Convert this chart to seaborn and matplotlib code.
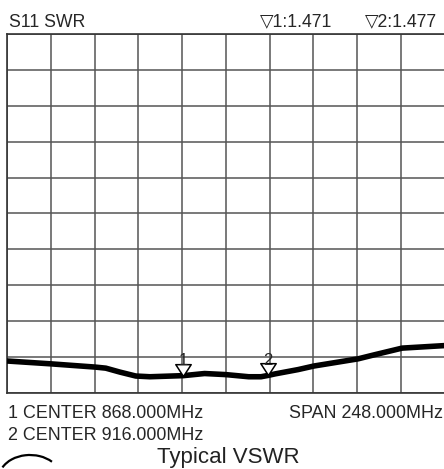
import numpy as np
import matplotlib
matplotlib.use("Agg")
import matplotlib.pyplot as plt
import seaborn as sns
import pandas as pd
from matplotlib.path import Path
from matplotlib.patches import Arc

# Trace (MHz, SWR)
freq = [768, 793, 818, 824, 832, 841, 849, 868, 880, 892, 905, 912, 916,
        920, 933, 942, 967, 976, 992, 1016]
swr = [1.88, 1.80, 1.71, 1.68, 1.57, 1.46, 1.44, 1.471, 1.53, 1.50, 1.44,
       1.44, 1.477, 1.52, 1.64, 1.74, 1.94, 2.05, 2.24, 2.31]

marker_ids = ["1", "2"]
marker_freq = [868, 916]
marker_swr = [1.471, 1.477]

start_mhz = 768
span_mhz = 248
swr_bottom = 1
swr_top = 11

df = pd.DataFrame({"freq": freq, "swr": swr})

sns.set_style("white")
plt.rcParams["font.family"] = ["Liberation Sans", "DejaVu Sans"]

fig = plt.figure(figsize=(4.44, 4.69), dpi=100)
ax = fig.add_axes([7 / 444, 76.5 / 469, 437.5 / 444, 358 / 469])

sns.lineplot(data=df, x="freq", y="swr", ax=ax, color="black", lw=4.0,
             solid_joinstyle="round", solid_capstyle="butt", zorder=3)

# marker triangles with tip on the trace
tri = Path([(-0.65, 1.0), (0.65, 1.0), (0, 0), (-0.65, 1.0)],
           [Path.MOVETO, Path.LINETO, Path.LINETO, Path.CLOSEPOLY])
ax.scatter(marker_freq, marker_swr, marker=tri, s=290, facecolor="white",
           edgecolor="black", linewidth=1.1, zorder=4)
for mid, f, v in zip(marker_ids, marker_freq, marker_swr):
    ax.annotate(mid, (f, v), xytext=(0, 7.6), textcoords="offset points",
                ha="center", va="baseline", fontsize=12, zorder=6)

ax.set_xlim(start_mhz, start_mhz + span_mhz)
ax.set_ylim(swr_bottom, swr_top)
ax.set_xticks(np.linspace(start_mhz, start_mhz + span_mhz, 11))
ax.set_yticks(np.arange(swr_bottom, swr_top + 1, 1))
ax.tick_params(length=0, labelbottom=False, labelleft=False)
ax.set_xlabel("")
ax.set_ylabel("")
ax.grid(True, color="#555555", lw=1.1)
for s in ax.spines.values():
    s.set_color("#333333")
    s.set_linewidth(1.2)

# header
fig.text(9 / 444, 1 - 26.7 / 469, "S11 SWR", fontsize=12.7, va="baseline")
fig.text(332 / 444, 1 - 26.7 / 469, "\u25bd1:1.471", fontsize=12.7,
         va="baseline", ha="right")
fig.text(437 / 444, 1 - 26.7 / 469, "\u25bd2:1.477", fontsize=12.7,
         va="baseline", ha="right")

# footer
fig.text(8 / 444, 1 - 418.3 / 469, "1 CENTER 868.000MHz", fontsize=12.9,
         va="baseline")
fig.text(443 / 444, 1 - 418.3 / 469, "SPAN 248.000MHz", fontsize=12.9,
         va="baseline", ha="right")
fig.text(8 / 444, 1 - 440 / 469, "2 CENTER 916.000MHz", fontsize=12.9,
         va="baseline")
fig.text(228.5 / 444, 1 - 463 / 469, "Typical VSWR", fontsize=16,
         va="baseline", ha="center", color="#222222")

# bit of logo swoosh at lower left
fig.add_artist(Arc((30 / 444, 1 - 478 / 469), 62 / 444, 46 / 469,
                   theta1=35, theta2=160, transform=fig.transFigure,
                   color="black", lw=1.6))

fig.savefig("out.png", dpi=100)
